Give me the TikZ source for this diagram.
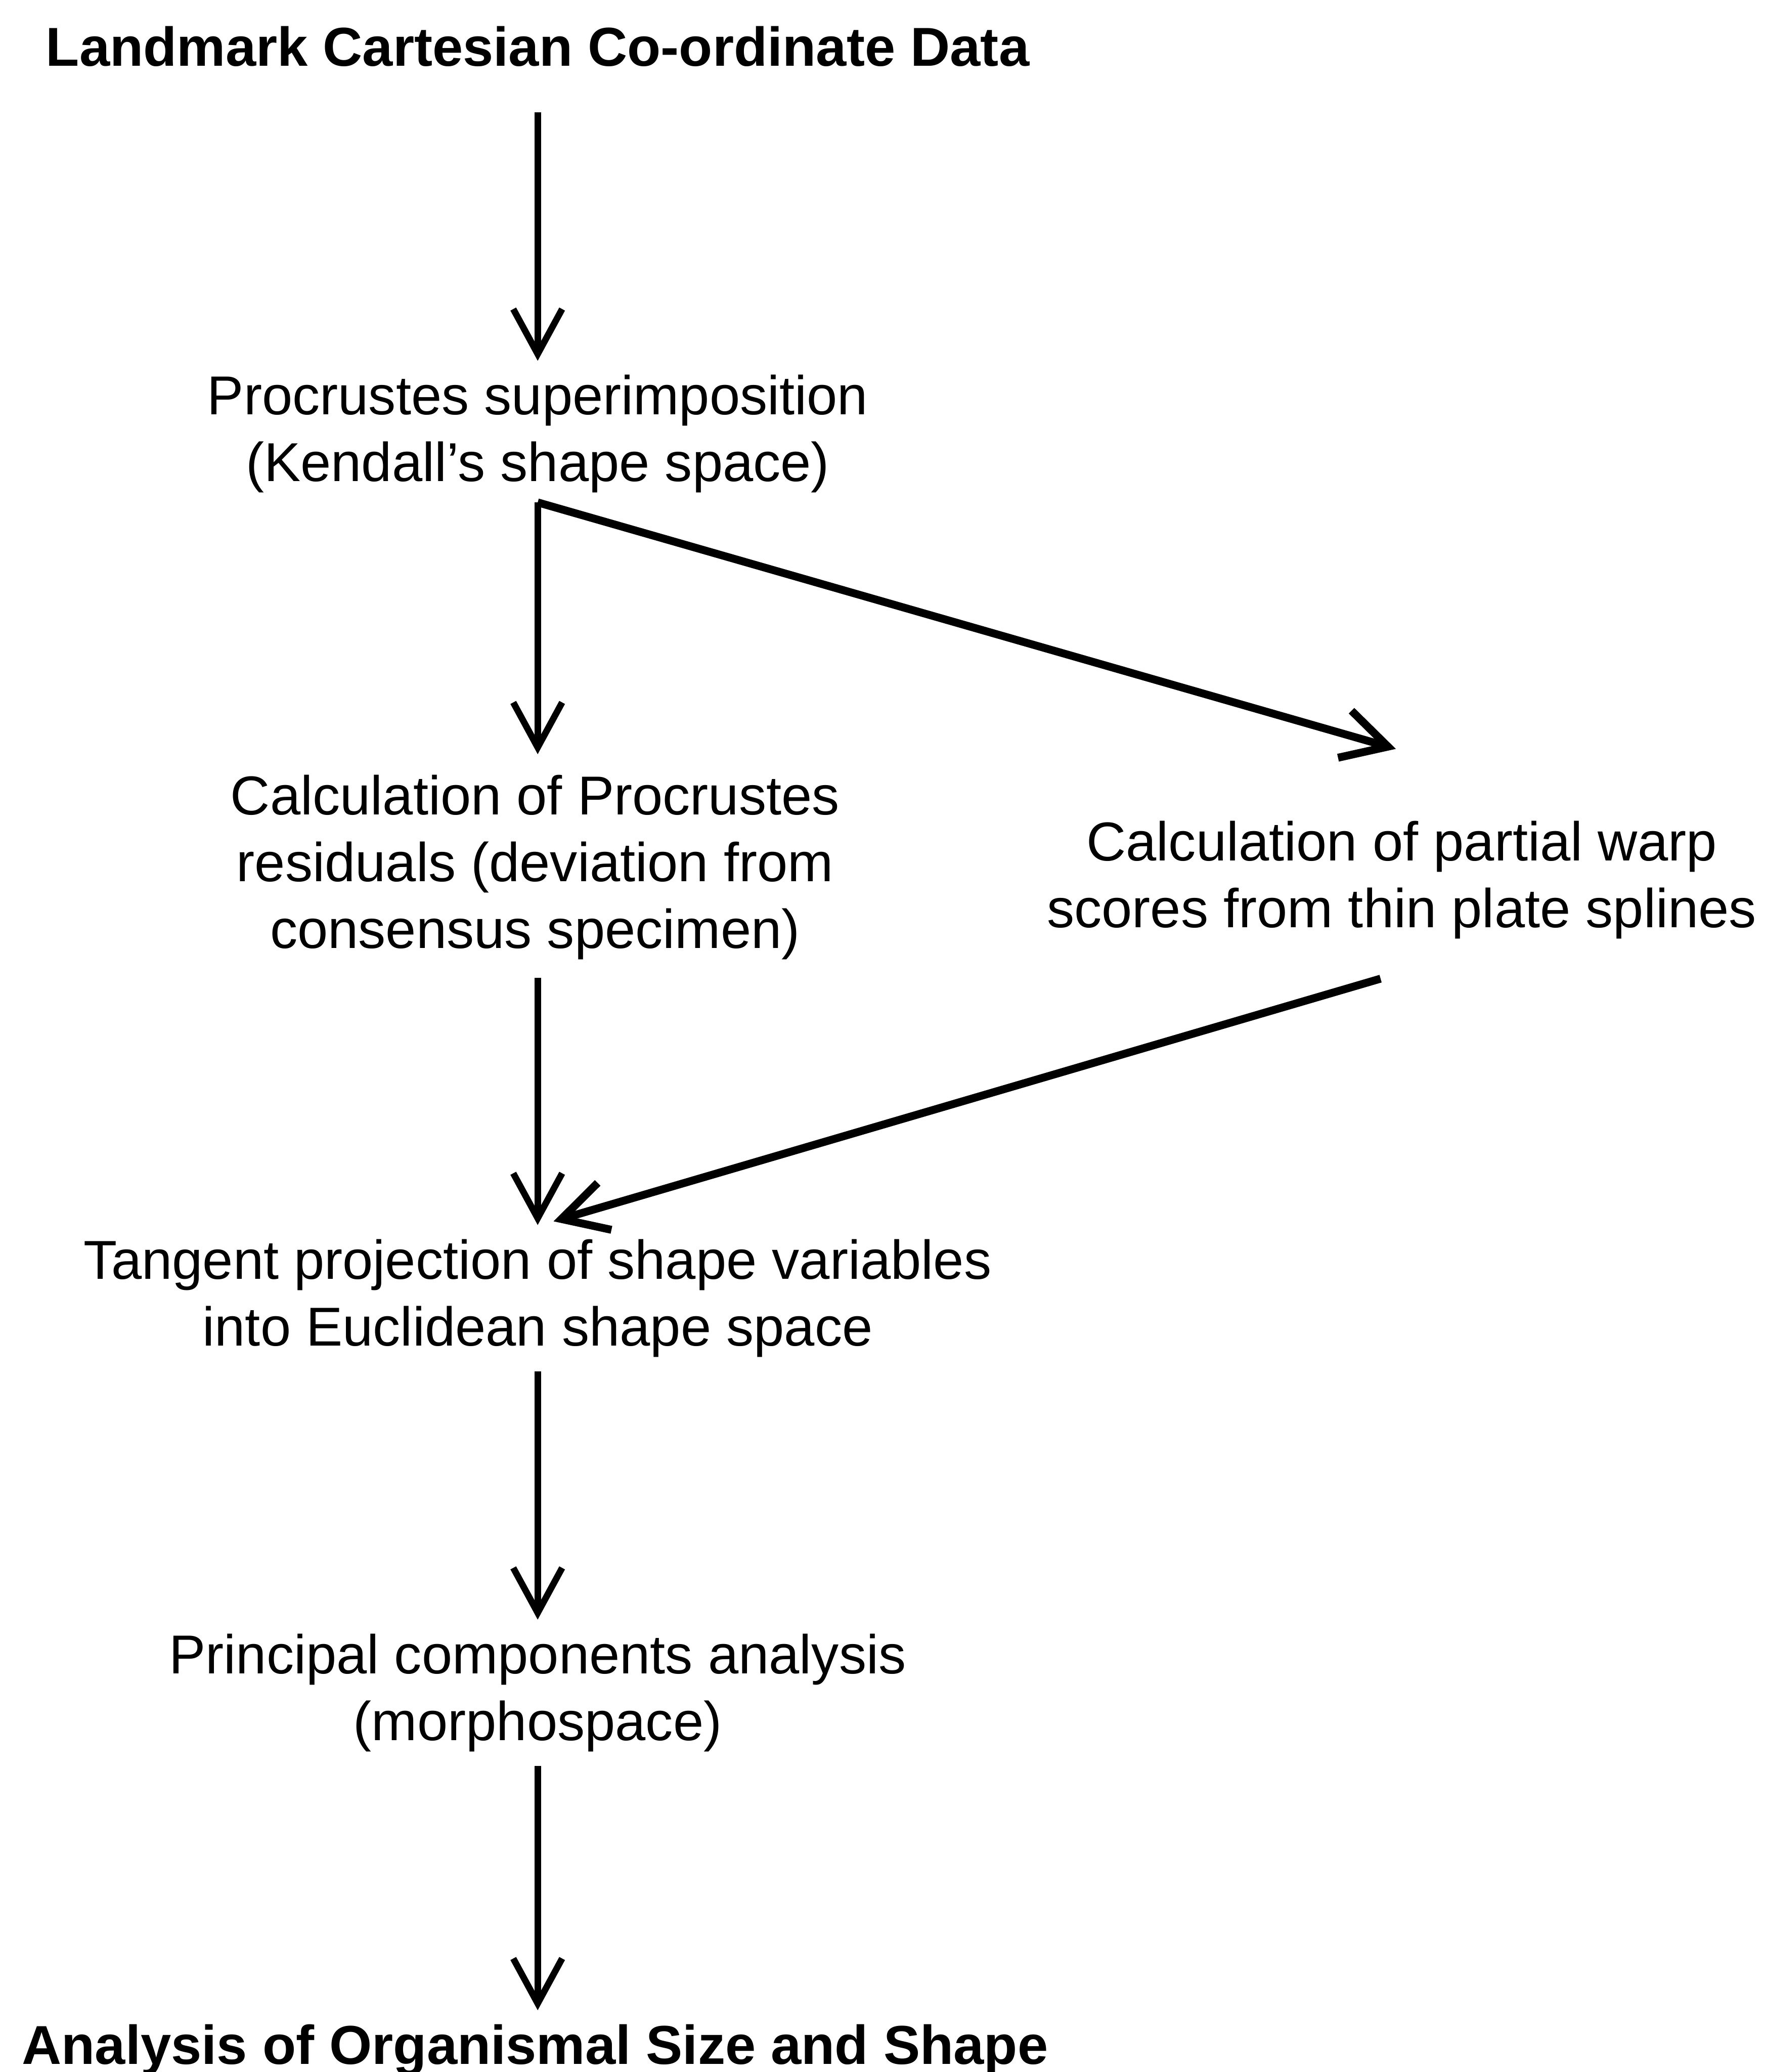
\documentclass[tikz,border=0pt]{standalone}
\usepackage{fontspec}
\setmainfont{Liberation Sans}
\usetikzlibrary{arrows.meta}
\begin{document}
\begin{tikzpicture}[font=\fontsize{11.8}{14.4}\selectfont, line join=miter, >={Straight Barb[length=3.4mm,width=3.7mm]},
  txt/.style={align=center, inner sep=0pt, anchor=base},
  head/.style={txt, font=\fontsize{11.8}{14.4}\selectfont\bfseries},
  flow/.style={->, line width=1.4pt, shorten <=1mm, shorten >=1mm},
  cross/.style={->, line width=1.7pt}]
\useasboundingbox (0,0) rectangle (13.36,-15.68);
% base = last line
\node[head] (data) at (4.07,-0.50) {Landmark Cartesian Co-ordinate Data};
\node[txt] (proc) at (4.07,-3.644) {Procrustes superimposition\\(Kendall's shape space)};
\node[txt] (resid) at (4.05,-7.177) {Calculation of Procrustes\\residuals (deviation from\\consensus specimen)};
\node[txt] (warp) at (10.61,-7.02) {Calculation of partial warp\\scores from thin plate splines};
\node[txt] (tang) at (4.07,-10.184) {Tangent projection of shape variables\\into Euclidean shape space};
\node[txt] (pca) at (4.07,-13.17) {Principal components analysis\\(morphospace)};
\node[head] (size) at (4.05,-15.62) {Analysis of Organismal Size and Shape};
\coordinate (fork) at ([yshift=-0.65mm]proc.south);
% main column
\draw[flow, shorten <=3.4mm] (data.south) -- (proc.north);
\draw[flow, shorten <=0mm, shorten >=1.5mm] (fork) -- (fork |- resid.north);
\draw[flow, shorten <=1.3mm] (resid.south -| fork) -- (fork |- tang.north);
\draw[flow] (tang.south) -- (pca.north);
\draw[flow] (pca.south) -- (pca.south |- size.north);
% side branch
\draw[cross] (fork) -- ([shift={(-0.044,0.539)}]warp.north);
\draw[cross] ([shift={(-0.16,-0.293)}]warp.south) -- ([shift={(0.12,0.128)}]tang.north);
\end{tikzpicture}
\end{document}
